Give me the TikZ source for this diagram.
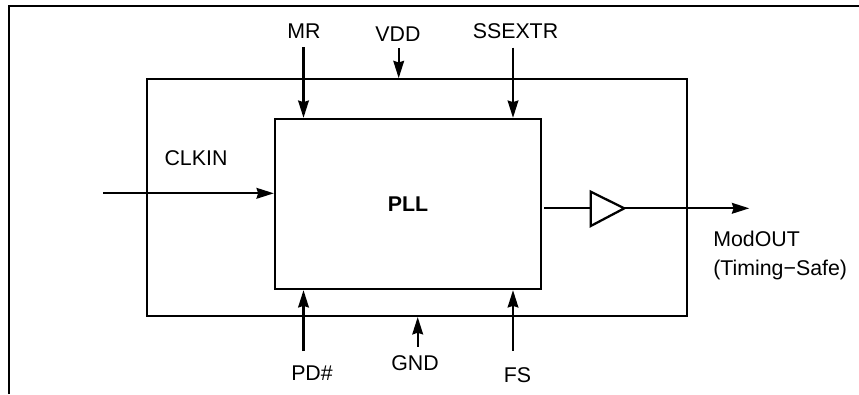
\documentclass[tikz,border=0pt]{standalone}
\usepackage{fontspec}
\setmainfont{Liberation Sans}
\usetikzlibrary{arrows.meta}
\tikzset{
  frameline/.style={draw=black,line width=1.7pt,line join=miter},
  wire/.style={draw=black,line width=1.7pt,-{Stealth[length=13pt,width=8pt,inset=1.2pt]}},
  plainwire/.style={draw=black,line width=1.7pt},
  lbl/.style={font=\fontsize{16}{18}\selectfont,inner sep=0pt,text=black},
}
\begin{document}
\begin{tikzpicture}[x=0.75pt,y=-0.75pt]
\useasboundingbox (0,0) rectangle (859,394);
\fill[white] (0,0) rectangle (859,394);
\draw[frameline] (8.7,394) -- (8.7,6) -- (859,6);
\node[frameline,rectangle,inner sep=0pt,minimum width=405.4pt,minimum height=177.4pt] (outer) at (417,197.6) {};
\node[frameline,rectangle,inner sep=0pt,minimum width=199.5pt,minimum height=127.5pt,font=\fontsize{16}{18}\selectfont\bfseries] (pll) at (408,204) {PLL};
\node[lbl] (mr) at (304,31.5) {MR};
\node[lbl] (vdd) at (398,33.7) {VDD};
\node[lbl] (ss) at (515.5,31.5) {SSEXTR};
\node[lbl] (clk) at (196,158.5) {CLKIN};
\node[lbl] (pd) at (312,373) {PD\#};
\node[lbl] (gnd) at (415,363.5) {GND};
\node[lbl] (fs) at (517.5,375.5) {FS};
\node[lbl,anchor=west] (mod) at (713,239) {ModOUT};
\node[lbl,anchor=west] (ts) at (713,270) {(Timing−Safe)};
\coordinate (mrs) at (303.5,47.3);
\coordinate (vdds) at (398.7,48.3);
\coordinate (sss) at (513,47.5);
\coordinate (clks) at (103.3,193.3);
\coordinate (pds) at (303.5,351);
\coordinate (gnds) at (417.7,346.7);
\coordinate (fss) at (513,350.7);
\coordinate (outs) at (544,208.3);
\coordinate (oute) at (749.3,208.3);
\coordinate (bufl) at (590.7,208.3);
\coordinate (bufr) at (624.3,208.3);
\draw[wire] (mrs) -- (mrs |- pll.north);
\draw[wire] (vdds) -- (vdds |- outer.north);
\draw[wire] (sss) -- (sss |- pll.north);
\draw[wire] (clks) -- (clks -| pll.west);
\draw[wire] (pds) -- (pds |- pll.south);
\draw[wire] (gnds) -- (gnds |- outer.south);
\draw[wire] (fss) -- (fss |- pll.south);
\draw[frameline] (590.7,191.7) -- (bufr) -- (590.7,226) -- cycle;
\draw[plainwire] (outs) -- (bufl);
\draw[wire] (bufr) -- (oute);
\end{tikzpicture}
\end{document}
